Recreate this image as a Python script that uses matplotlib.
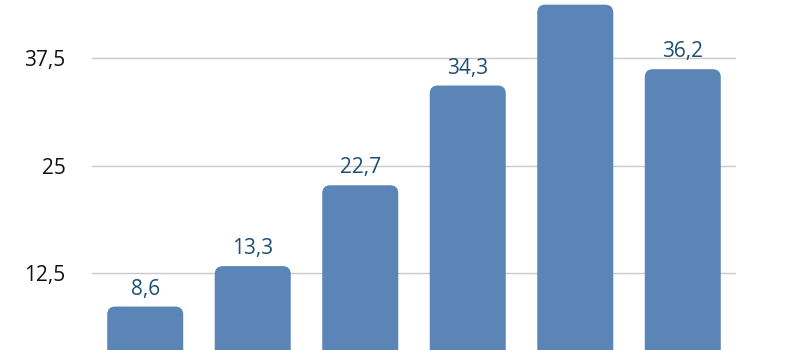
import matplotlib
matplotlib.use('Agg')
import matplotlib.pyplot as plt
from matplotlib.patches import FancyBboxPatch

# values (5th bar label is cropped, value estimated)
values = [8.6, 13.3, 22.7, 34.3, 43.7, 36.2]
labels = ['8,6', '13,3', '22,7', '34,3', '43,7', '36,2']
yticks = [12.5, 25, 37.5]
yticklabels = ['12,5', '25', '37,5']

barColor = '#5b84b7'
labelColor = '#1d4f72'

plt.rcParams['font.family'] = ['Open Sans', 'DejaVu Sans']

fig = plt.figure(figsize=(8, 3.5), dpi=100)
# axes placed so the zero line falls below the picture, like the reference crop
ax = fig.add_axes([92 / 800, -30.5 / 350, 644 / 800, 380.5 / 350])
ymax = 380.5 / 8.6
ax.set_xlim(-0.495, 5.495)
ax.set_ylim(0, ymax)

width = 0.707
xs = list(range(len(values)))
bars = ax.bar(xs, values, width=width, color=barColor, zorder=2)

# swap the plain bars for rounded ones
for b in bars:
    b.set_visible(False)
    rounded = FancyBboxPatch((b.get_x(), b.get_y()), b.get_width(), b.get_height(),
                             boxstyle='round,pad=0,rounding_size=0.075',
                             mutation_aspect=12.5, facecolor=barColor,
                             edgecolor='none', zorder=2)
    ax.add_patch(rounded)

for x, v, t in zip(xs, values, labels):
    if v > ymax - 4:
        continue  # label falls above the cropped top, as in the reference
    ax.annotate(t, (x, v), xytext=(0, 5), textcoords='offset points',
                ha='center', va='bottom', fontsize=15, color=labelColor)

ax.set_yticks(yticks)
ax.set_yticklabels(yticklabels, fontsize=15, color='#111111')
ax.set_xticks([])
ax.tick_params(axis='y', length=0, pad=19)
ax.grid(axis='y', color='#c9c9c9', linewidth=1, zorder=0)
for s in ax.spines.values():
    s.set_visible(False)

fig.savefig('out.png', dpi=100)
